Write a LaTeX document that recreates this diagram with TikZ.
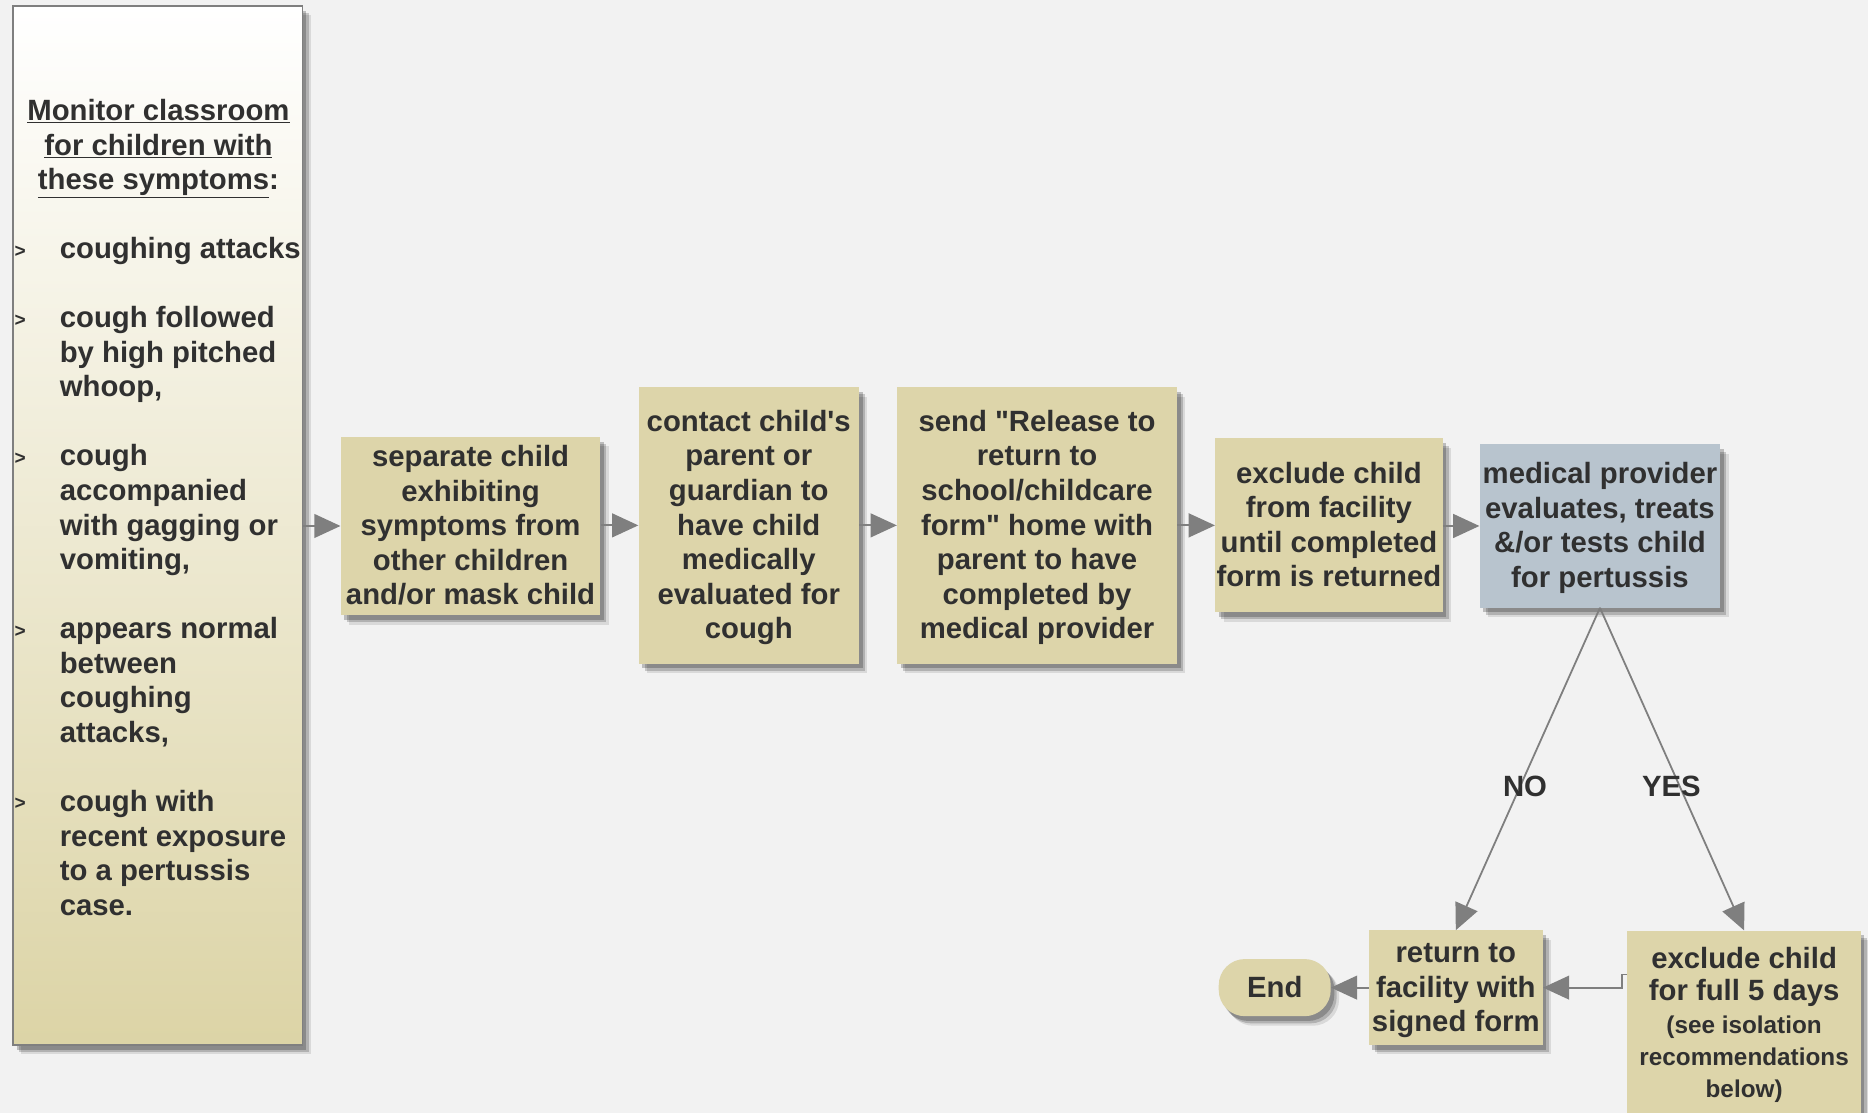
\documentclass[tikz,border=0pt]{standalone}
\usepackage{fontspec}
\setmainfont{Liberation Sans}
\usetikzlibrary{arrows.meta,shadows}
\definecolor{bggray}{HTML}{F2F2F2}
\definecolor{boxtan}{HTML}{DDD5AA}
\definecolor{paneltan}{HTML}{DCD4A6}
\definecolor{boxblue}{HTML}{B8C4CE}
\definecolor{inkgray}{HTML}{303030}
\definecolor{arrowgray}{HTML}{7F7F7F}
\newcommand{\isofont}{\fontsize{20.4}{27}\selectfont}
\newcommand{\tstrut}{\rule{0pt}{25pt}}
\begin{document}
\begin{tikzpicture}[x=1pt,y=-1pt]
\tikzstyle{every node}+=[inner sep=0pt, text=inkgray, font=\bfseries\fontsize{24.6}{29}\selectfont]
\tikzstyle{softshadow}=[drop shadow={shadow xshift=3pt, shadow yshift=-4pt, opacity=0.22, fill=black}, drop shadow={shadow xshift=5pt, shadow yshift=-6pt, opacity=0.18, fill=black}, drop shadow={shadow xshift=7pt, shadow yshift=-8pt, opacity=0.1, fill=black}]
\tikzstyle{box}=[fill=boxtan, align=center, softshadow]
\tikzstyle{bullet}=[font=\bfseries\fontsize{16}{16}\selectfont]
\tikzstyle{arr}=[draw=arrowgray, line width=1.5pt, -{Triangle[length=22pt,width=20pt]}]
\useasboundingbox (0,0) rectangle (1568,934);
\fill [bggray] (0,0) rectangle (1568,934);
\node [draw=arrowgray, line width=1.2pt, top color=white, bottom color=paneltan, minimum width=243, minimum height=872, softshadow] (panel) at (132.5,441) {};
\node [align=center] (title) at (133,122) {\tstrut\underline{Monitor classroom}\\\underline{for children with}\\\underline{these symptoms}:\strut};
\node [bullet] (b1) at (17,211) {>};
\node [bullet] (b2) at (17,269) {>};
\node [bullet] (b3) at (17,385) {>};
\node [bullet] (b4) at (17,530) {>};
\node [bullet] (b5) at (17,675) {>};
\node [anchor=west, align=left] (s1) at (50,209) {\tstrut coughing attacks\strut};
\node [anchor=west, align=left] (s2) at (50,296) {\tstrut cough followed\\by high pitched\\whoop,\strut};
\node [anchor=west, align=left] (s3) at (50,426.5) {\tstrut cough\\accompanied\\with gagging or\\vomiting,\strut};
\node [anchor=west, align=left] (s4) at (50,571.5) {\tstrut appears normal\\between\\coughing\\attacks,\strut};
\node [anchor=west, align=left] (s5) at (50,716.5) {\tstrut cough with\\recent exposure\\to a pertussis\\case.\strut};
\node [box, minimum width=218, minimum height=149] (sep) at (395,441.5) {\tstrut separate child\\exhibiting\\symptoms from\\other children\\and/or mask child\strut};
\node [box, minimum width=185, minimum height=232] (contact) at (628.5,441) {\tstrut contact child\textquotesingle s\\parent or\\guardian to\\have child\\medically\\evaluated for\\cough\strut};
\node [box, minimum width=235, minimum height=232] (send) at (870.5,441) {\tstrut send \textquotedbl Release to\\return to\\school/childcare\\form\textquotedbl{} home with\\parent to have\\completed by\\medical provider\strut};
\node [box, minimum width=191, minimum height=146] (excl) at (1115.5,441) {\tstrut exclude child\\from facility\\until completed\\form is returned\strut};
\node [box, fill=boxblue, minimum width=202, minimum height=137] (med) at (1343,441.5) {\tstrut medical provider\\evaluates, treats\\\&/or tests child\\for pertussis\strut};
\node [box, minimum width=146, minimum height=96] (ret) at (1222,829) {\tstrut return to\\facility with\\signed form\strut};
\node [box, anchor=north, minimum width=196, minimum height=155, font=\bfseries\fontsize{24.6}{27}\selectfont] (isol) at (1464,781) {\tstrut exclude child\\for full 5 days\\\isofont(see isolation\\\isofont recommendations\\\isofont below)\strut};
\node [box, rounded corners=22pt, minimum width=94, minimum height=48] (fin) at (1070,829) {\tstrut End\strut};
\draw [arr] (panel.east |- sep.west) -- (sep.west);
\draw [arr] (sep.east |- contact.west) -- (contact.west);
\draw [arr] (contact.east) -- (send.west);
\draw [arr] (send.east) -- (excl.west);
\draw [arr] (excl.east |- med.west) -- (med.west);
\draw [arr] (med.south) -- node [pos=0.553, xshift=4pt] (no) {NO} (ret.north);
\draw [arr] (med.south) -- node [pos=0.553, xshift=-7pt] (yes) {YES} (isol.north);
\draw [arr] ([yshift=-37pt]isol.north west) -- ++(-4,0) |- (ret.east);
\draw [arr] (ret.west) -- (fin.east);
\end{tikzpicture}
\end{document}
